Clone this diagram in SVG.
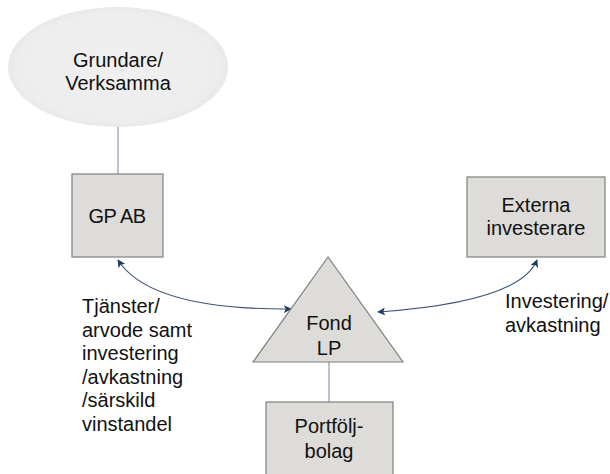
<svg xmlns="http://www.w3.org/2000/svg" width="610" height="474" viewBox="0 0 610 474">
<defs>
<style>
text{font-family:"Liberation Sans",Arial,sans-serif;font-size:20px;fill:#111}
.c{text-anchor:middle}
.box{fill:#dddcd9;stroke:#7f7f7f;stroke-width:1.2}
.ln{fill:none;stroke:#8a9ab8;stroke-width:1.2}
.ar{fill:none;stroke:#3d5478;stroke-width:1.1}
</style>
<radialGradient id="eg" cx="50%" cy="50%" r="50%">
<stop offset="0" stop-color="#f0f0f0"/>
<stop offset="0.92" stop-color="#ededed"/>
<stop offset="1" stop-color="#e8e8e8"/>
</radialGradient>
<marker id="ah" viewBox="0 0 10 10" refX="9" refY="5" markerWidth="8" markerHeight="8" orient="auto-start-reverse" markerUnits="userSpaceOnUse">
<path d="M0,0 L10,5 L0,10 L2.5,5 Z" fill="#1f3864"/>
</marker>
</defs>
<g id="connectors">
<line class="ln" x1="118" y1="127" x2="118" y2="174"/>
<line class="ln" x1="329" y1="362" x2="329" y2="402"/>
<path class="ar" d="M118,260 Q150,310 291,309" marker-start="url(#ah)" marker-end="url(#ah)"/>
<path class="ar" d="M378,312 Q520,302 537,260" marker-start="url(#ah)" marker-end="url(#ah)"/>
</g>
<g id="grundare">
<ellipse cx="118" cy="67" rx="110" ry="60" fill="url(#eg)"/>
<text class="c" x="118" y="67">Grundare/</text>
<text class="c" x="118" y="90">Verksamma</text>
</g>
<g id="gpab">
<rect class="box" x="72" y="174" width="91" height="83"/>
<text class="c" x="117" y="223" style="letter-spacing:-0.5px">GP AB</text>
</g>
<g id="externa">
<rect class="box" x="467" y="177" width="138" height="80"/>
<text class="c" x="536" y="212">Externa</text>
<text class="c" x="536" y="235">investerare</text>
</g>
<g id="fond">
<polygon class="box" points="328,257 253,362 403,362"/>
<text class="c" x="329" y="330">Fond</text>
<text class="c" x="329" y="355">LP</text>
</g>
<g id="portfolj">
<rect class="box" x="266" y="402" width="127" height="80"/>
<text class="c" x="329" y="433">Portfölj-</text>
<text class="c" x="329" y="458">bolag</text>
</g>
<g id="label-left" style="font-size:19.5px">
<text x="82" y="313">Tjänster/</text>
<text x="82" y="337">arvode samt</text>
<text x="82" y="360">investering</text>
<text x="82" y="383.5">/avkastning</text>
<text x="82" y="407">/särskild</text>
<text x="82" y="430.5">vinstandel</text>
</g>
<g id="label-right">
<text x="505" y="308">Investering/</text>
<text x="505" y="332">avkastning</text>
</g>
</svg>
